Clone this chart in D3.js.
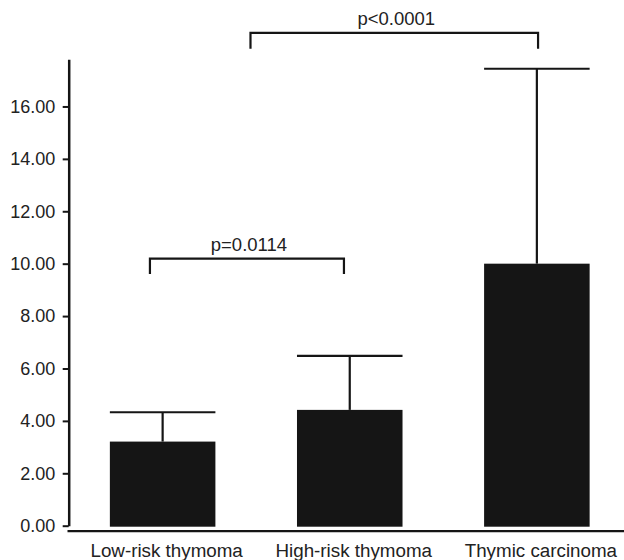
<!DOCTYPE html>
<html lang="en">
<head>
<meta charset="UTF-8">
<title>Thymoma bars</title>
<script src="https://d3js.org/d3.v7.min.js"></script>
<style>
  body { margin: 0; background: #fff; }
  text { font-family: "Liberation Sans", Arial, Helvetica, sans-serif; fill: #222; }
</style>
</head>
<body>
<div id="chart"></div>
<script>
    var width = 624, height = 560;

    // values
    var groups = ["Low-risk thymoma", "High-risk thymoma", "Thymic carcinoma"];
    var means = [3.21, 4.42, 10.0];
    var errTop = [4.33, 6.48, 17.44];
    var yTicks = [0, 2, 4, 6, 8, 10, 12, 14, 16];
    var pLabels = ["p=0.0114", "p<0.0001"];
    var pLevels = [10.19, 18.81];

    var svg = d3.select("#chart").append("svg")
        .attr("width", width)
        .attr("height", height);

    var y = d3.scaleLinear().domain([0, 17.8]).range([525.7, 59.3]);
    var x = d3.scaleBand().domain(groups)
        .range([68.7, 630.8])
        .paddingInner(0.436)
        .paddingOuter(0.22);

    var ink = "#151515";

    // bars
    svg.selectAll("rect.bar")
        .data(groups)
        .enter().append("rect")
        .attr("class", "bar")
        .attr("x", function(d) { return x(d); })
        .attr("width", x.bandwidth())
        .attr("y", function(d, i) { return y(means[i]); })
        .attr("height", function(d, i) { return y(0) + 1 - y(means[i]); })
        .attr("fill", ink);

    // error bars (upper only)
    var eb = svg.append("g").attr("stroke", ink).attr("stroke-width", 2.2);
    groups.forEach(function(d, i) {
        var cx = x(d) + x.bandwidth() / 2;
        eb.append("line").attr("x1", cx).attr("x2", cx)
            .attr("y1", y(means[i])).attr("y2", y(errTop[i]));
        eb.append("line").attr("x1", x(d)).attr("x2", x(d) + x.bandwidth())
            .attr("y1", y(errTop[i])).attr("y2", y(errTop[i]));
    });

    // y axis
    var yAxis = svg.append("g")
        .attr("transform", "translate(68.7,0)")
        .call(d3.axisLeft(y).tickValues(yTicks).tickFormat(d3.format(".2f")).tickSize(6).tickSizeOuter(0));
    yAxis.select(".domain").attr("stroke", ink).attr("stroke-width", 2.5);
    yAxis.selectAll(".tick line").attr("stroke", ink).attr("stroke-width", 2);
    yAxis.selectAll(".tick text")
        .attr("x", -13.5)
        .style("font-size", "18px")
        .style("font-family", "Liberation Sans, Arial, sans-serif")
        .attr("fill", "#222");

    // x axis line, sits a bit below zero
    svg.append("line")
        .attr("x1", 67.5).attr("x2", 624)
        .attr("y1", 531.2).attr("y2", 531.2)
        .attr("stroke", ink).attr("stroke-width", 2.2);

    svg.selectAll("text.xlab")
        .data(groups)
        .enter().append("text")
        .attr("class", "xlab")
        .attr("x", function(d) { return x(d) + x.bandwidth() / 2 + 4; })
        .attr("y", 556.5)
        .attr("text-anchor", "middle")
        .style("font-size", "18.8px")
        .text(function(d) { return d; });

    // significance brackets
    var c = function(i) { return x(groups[i]) + x.bandwidth() / 2; };
    var brackets = [
        { x1: c(0) - 12.7, x2: c(1) - 5.8, lab: pLabels[0], lev: pLevels[0], leg: 15.3 },
        { x1: (c(0) + c(1)) / 2 - 5.7, x2: c(2) + 1.2, lab: pLabels[1], lev: pLevels[1], leg: 16 }
    ];
    brackets.forEach(function(b) {
        var yb = y(b.lev);
        svg.append("path")
            .attr("d", "M" + b.x1 + "," + (yb + b.leg) + "V" + yb + "H" + b.x2 + "V" + (yb + b.leg))
            .attr("fill", "none")
            .attr("stroke", ink)
            .attr("stroke-width", 2.2);
        svg.append("text")
            .attr("x", (b.x1 + b.x2) / 2 + 2)
            .attr("y", yb - 7.8)
            .attr("text-anchor", "middle")
            .style("font-size", "18.5px")
            .text(b.lab);
    });
</script>
</body>
</html>
